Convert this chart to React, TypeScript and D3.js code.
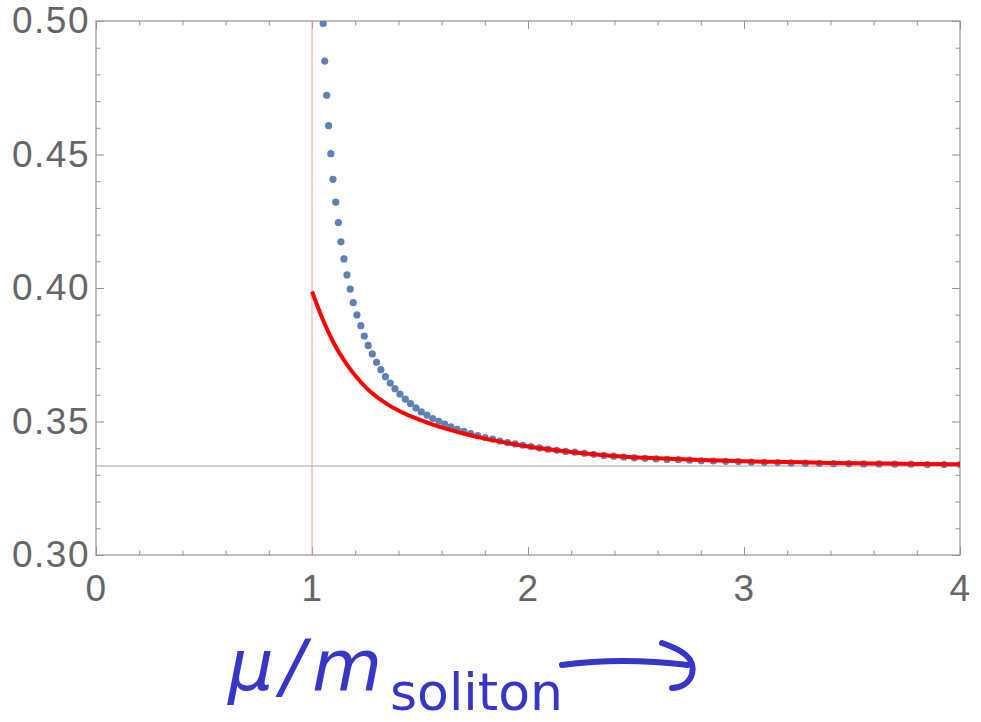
import React, { useEffect, useRef } from "react";
import * as d3 from "d3";

// numerical points (blue dots)
const dotX = [
  1.052, 1.059, 1.068, 1.077, 1.087, 1.097, 1.11, 1.122, 1.134, 1.148,
  1.162, 1.177, 1.191, 1.208, 1.226, 1.242, 1.26, 1.279, 1.299, 1.319,
  1.34, 1.362, 1.384, 1.407, 1.432, 1.456, 1.481, 1.506, 1.532, 1.559,
  1.587, 1.614, 1.643, 1.672, 1.703, 1.735, 1.767, 1.801, 1.836, 1.87,
  1.905, 1.941, 1.977, 2.014, 2.053, 2.093, 2.133, 2.174, 2.217, 2.261,
  2.304, 2.351, 2.397, 2.443, 2.492, 2.542, 2.593, 2.644, 2.696, 2.749,
  2.802, 2.858, 2.915, 2.974, 3.034, 3.094, 3.156, 3.218, 3.284, 3.349,
  3.415, 3.485, 3.554, 3.625, 3.698, 3.773, 3.849, 3.926, 4.0,
];
const dotY = [
  0.4991, 0.485, 0.4722, 0.4608, 0.4503, 0.4407, 0.4322, 0.4245, 0.4173, 0.4109,
  0.4049, 0.3996, 0.3945, 0.3899, 0.3859, 0.382, 0.3785, 0.3753, 0.3722, 0.3694,
  0.3668, 0.3644, 0.3623, 0.3603, 0.3584, 0.3567, 0.3551, 0.3536, 0.3524, 0.3511,
  0.3501, 0.349, 0.348, 0.3471, 0.3463, 0.3455, 0.3447, 0.344, 0.3434, 0.3427,
  0.3421, 0.3416, 0.3411, 0.3406, 0.3401, 0.3396, 0.3392, 0.3388, 0.3385, 0.3381,
  0.3377, 0.3373, 0.337, 0.3367, 0.3364, 0.3362, 0.336, 0.3358, 0.3357, 0.3355,
  0.3353, 0.3352, 0.3351, 0.335, 0.3348, 0.3347, 0.3346, 0.3345, 0.3344, 0.3343,
  0.3342, 0.3342, 0.3341, 0.3341, 0.334, 0.334, 0.3339, 0.3339, 0.3339,
];

// analytic approximation (red curve)
const fitX = [
  1.0, 1.05, 1.1, 1.15, 1.2, 1.25, 1.3, 1.35, 1.4, 1.45, 1.5, 1.55, 1.6,
  1.7, 1.8, 1.9, 2.0, 2.2, 2.4, 2.6, 2.8, 3.0, 3.2, 3.4, 3.6, 3.8, 4.0,
];
const fitY = [
  0.3987, 0.3882, 0.3795, 0.3727, 0.3672, 0.3627, 0.3592, 0.3564, 0.3541, 0.3522,
  0.3506, 0.3491, 0.3478, 0.3455, 0.3436, 0.342, 0.3406, 0.3386, 0.3371, 0.3362,
  0.3356, 0.3351, 0.3348, 0.3345, 0.3343, 0.3341, 0.334,
];

const xTickValues = [0, 1, 2, 3, 4];
const yTickValues = [0.3, 0.35, 0.4, 0.45, 0.5];
const threshold = 1; // vertical marker
const asymptote = 1 / 3; // horizontal marker

const App = () => {
  const svgRef = useRef<SVGSVGElement | null>(null);

  useEffect(() => {
    document.body.style.margin = "0";
    const W = 981;
    const H = 722;
    const margin = { top: 21, right: 21, bottom: 167, left: 96 };
    const width = W - margin.left - margin.right;
    const height = H - margin.top - margin.bottom;

    d3.select(svgRef.current).selectAll("*").remove();

    const root = d3.select(svgRef.current).attr("width", W).attr("height", H);

    root
      .append("defs")
      .append("clipPath")
      .attr("id", "plot-clip")
      .append("rect")
      .attr("x", 0)
      .attr("y", 0)
      .attr("width", width)
      .attr("height", height);

    const svg = root
      .append("g")
      .attr("transform", `translate(${margin.left},${margin.top})`);

    const x = d3.scaleLinear().domain([0, 4]).range([0, width]);
    const y = d3.scaleLinear().domain([0.3, 0.5]).range([height, 0]);

    const minorX = d3.range(0, 4.001, 0.2).filter((v) => Math.abs(v - Math.round(v)) > 1e-6);
    const minorY = d3.range(0.3, 0.5001, 0.01).filter((v) => Math.abs(v * 20 - Math.round(v * 20)) > 1e-6);

    const font = "'Liberation Sans', Arial, sans-serif";
    const frameColor = "#949494";

    // tick helpers: major with labels, minor without
    const styleAxis = (g: any) => {
      g.select(".domain").remove();
      g.selectAll(".tick line").attr("stroke", frameColor);
      g.selectAll("text")
        .attr("fill", "#666")
        .style("font-family", font)
        .style("font-size", "37px")
        .style("letter-spacing", "1.5px");
    };

    // bottom
    svg
      .append("g")
      .attr("transform", `translate(0,${height})`)
      .call(d3.axisBottom(x).tickValues(xTickValues).tickSize(-8).tickPadding(20).tickFormat(d3.format("d")))
      .call(styleAxis);
    svg
      .append("g")
      .attr("transform", `translate(0,${height})`)
      .call(d3.axisBottom(x).tickValues(minorX).tickSize(-4.5).tickFormat(() => ""))
      .call(styleAxis);
    // top
    svg
      .append("g")
      .call(d3.axisTop(x).tickValues(xTickValues).tickSize(-8).tickFormat(() => ""))
      .call(styleAxis);
    svg
      .append("g")
      .call(d3.axisTop(x).tickValues(minorX).tickSize(-4.5).tickFormat(() => ""))
      .call(styleAxis);
    // left
    svg
      .append("g")
      .call(d3.axisLeft(y).tickValues(yTickValues).tickSize(-8).tickPadding(6).tickFormat(d3.format(".2f")))
      .call(styleAxis);
    svg
      .append("g")
      .call(d3.axisLeft(y).tickValues(minorY).tickSize(-4.5).tickFormat(() => ""))
      .call(styleAxis);
    // right
    svg
      .append("g")
      .attr("transform", `translate(${width},0)`)
      .call(d3.axisRight(y).tickValues(yTickValues).tickSize(-8).tickFormat(() => ""))
      .call(styleAxis);
    svg
      .append("g")
      .attr("transform", `translate(${width},0)`)
      .call(d3.axisRight(y).tickValues(minorY).tickSize(-4.5).tickFormat(() => ""))
      .call(styleAxis);

    // frame
    svg
      .append("rect")
      .attr("width", width)
      .attr("height", height)
      .attr("fill", "none")
      .attr("stroke", frameColor)
      .attr("stroke-width", 1.2);

    const plot = svg.append("g").attr("clip-path", "url(#plot-clip)");

    // reference lines
    plot
      .append("line")
      .attr("x1", 0)
      .attr("x2", width)
      .attr("y1", y(asymptote))
      .attr("y2", y(asymptote))
      .attr("stroke", "#a0a0a0")
      .attr("stroke-width", 1);
    plot
      .append("line")
      .attr("x1", x(threshold))
      .attr("x2", x(threshold))
      .attr("y1", 0)
      .attr("y2", height)
      .attr("stroke", "#ff9a9a")
      .attr("stroke-width", 1);

    // dots
    plot
      .selectAll(".dot")
      .data(dotX.map((d, i) => [d, dotY[i]]))
      .enter()
      .append("circle")
      .attr("class", "dot")
      .attr("cx", (d) => x(d[0]))
      .attr("cy", (d) => y(d[1]))
      .attr("r", 3.6)
      .attr("fill", "#5e81b5");

    // red curve
    const line = d3
      .line<number>()
      .x((d) => x(d))
      .y((d, i) => y(fitY[i]))
      .curve(d3.curveMonotoneX);
    plot
      .append("path")
      .attr("d", line(fitX))
      .attr("fill", "none")
      .attr("stroke", "#ff0000")
      .attr("stroke-width", 4);

    // handwritten axis note
    const ink = "#3636c8";
    const note = root.append("g").attr("fill", ink);
    note
      .append("text")
      .attr("x", 228)
      .attr("y", 690)
      .style("font-family", "'DejaVu Sans', sans-serif")
      .style("font-style", "italic")
      .style("font-size", "72px")
      .style("letter-spacing", "7px")
      .text("μ/m");
    note
      .append("text")
      .attr("x", 390)
      .attr("y", 710)
      .style("font-family", "'DejaVu Sans', sans-serif")
      .style("font-size", "52px")
      .text("soliton");
    note
      .append("path")
      .attr("d", "M562,665 C600,660 645,660 688,665 M662,643 C682,650 696,658 692,674 C689,684 680,688 672,688")
      .attr("fill", "none")
      .attr("stroke", ink)
      .attr("stroke-width", 6)
      .attr("stroke-linecap", "round");
  }, []);

  return <svg ref={svgRef} style={{ display: "block" }}></svg>;
};

export default App;
